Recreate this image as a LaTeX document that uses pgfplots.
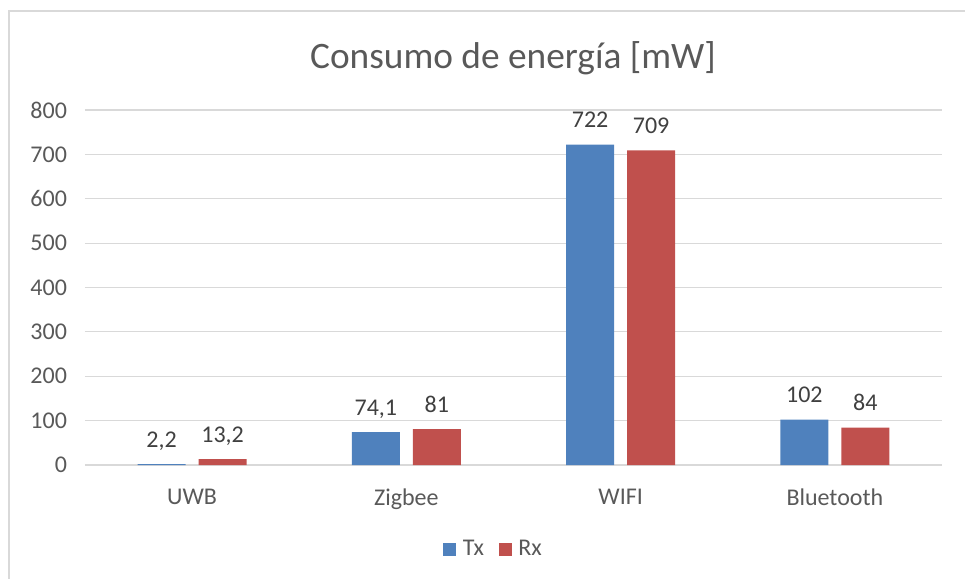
\documentclass[border=0pt]{standalone}
\usepackage{pgfplots}
\pgfplotsset{compat=1.18}
\usepackage{fontspec}
\setmainfont{Carlito}
\definecolor{txc}{HTML}{4F81BD}
\definecolor{rxc}{HTML}{C0504D}
\definecolor{txtc}{HTML}{595959}
\definecolor{lblc}{HTML}{404040}
\definecolor{gridc}{HTML}{D9D9D9}
\begin{document}
\begin{tikzpicture}
\path[use as bounding box] (0pt,0pt) rectangle (723.75pt,434.25pt);
\draw[gridc, line width=1.2pt] (6.75pt,0pt) -- (6.75pt,426pt) -- (723.75pt,426pt);
\node[font=\fontsize{28}{32}\selectfont, text=txtc] at (384.75pt,390.75pt) {Consumo de energía [mW]};
\begin{axis}[
  at={(63.75pt,85.5pt)}, anchor=south west,
  scale only axis, width=642.75pt, height=266.25pt,
  ymin=0, ymax=800, xmin=-0.5, xmax=3.5,
  ytick={0,100,...,800},
  xtick={0,1,2,3},
  xticklabels={UWB,Zigbee,WIFI,Bluetooth},
  axis line style={draw=none},
  tick style={draw=none},
  ymajorgrids, grid style={gridc, line width=0.9pt},
  /pgf/number format/assume math mode=true,
  ticklabel style={font=\fontsize{18}{21}\selectfont, text=txtc},
  yticklabel style={xshift=-10pt},
  xticklabel style={yshift=-10pt},
  ybar=9.75pt, bar width=36pt,
  nodes near coords={\pgfmathprintnumber[use comma]{\pgfplotspointmeta}},
  nodes near coords style={font=\fontsize{18}{21}\selectfont, text=lblc, anchor=base, yshift=12.75pt, inner sep=0pt, /pgf/number format/assume math mode=true},
  legend style={at={(0.477,-0.237)}, anchor=center, draw=none, legend columns=2,
    font=\fontsize{18}{21}\selectfont, text=txtc,
    /tikz/every even column/.append style={column sep=9pt},
    /tikz/every odd column/.append style={column sep=3pt}},
  legend image code/.code={\fill[#1] (0pt,-4.9pt) rectangle (9.75pt,4.9pt);},
]
\addplot[fill=txc, draw=none] coordinates {(0,2.2) (1,74.1) (2,722) (3,102)};
\addplot[fill=rxc, draw=none] coordinates {(0,13.2) (1,81) (2,709) (3,84)};
\legend{Tx,Rx}
\end{axis}
\end{tikzpicture}
\end{document}
